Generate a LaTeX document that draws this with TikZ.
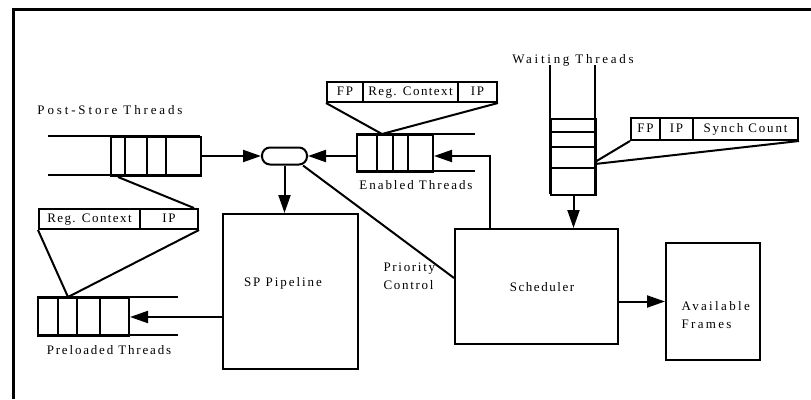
\documentclass[tikz,border=0pt]{standalone}
\usepackage{fontspec}
\setmainfont{Liberation Serif}
\usetikzlibrary{arrows.meta}
\begin{document}
\begin{tikzpicture}[x=1pt,y=-1pt,
  ln/.style={line width=2pt},
  bx/.style={draw,line width=2pt,inner sep=0pt,anchor=north west},
  fld/.style={bx,text height=9pt,text depth=3pt},
  arr/.style={line width=2pt,-{Triangle[length=18pt,width=12pt]}},
  lbl/.style={font=\fontsize{13}{18}\selectfont\addfontfeatures{LetterSpace=#1}},
  lbl/.default=14]
\useasboundingbox (0,0) rectangle (811,399);
% frame
\draw[line width=3pt] (811,9) -- (13,9) -- (13,399);

% Post-store queue
\draw[ln] (48,136) -- (200,136) (48,175) -- (200,175);
\node[bx,minimum width=90pt,minimum height=39pt] (ps) at (110,136) {};
\draw[ln] (125,136) -- (125,175) (147,136) -- (147,175) (166,136) -- (166,175);
\node[lbl=22] (pst) at (110,110) {Post-Store Threads};

% oval
\node[draw,line width=2pt,rounded corners=8pt,minimum width=45pt,minimum height=17pt,inner sep=0pt] (ov) at (284.5,156) {};

% Enabled queue
\draw[ln] (356,134) -- (475,134) (356,171) -- (475,171);
\node[bx,minimum width=76pt,minimum height=37pt] (en) at (356,134) {};
\draw[ln] (377,134) -- (377,171) (393,134) -- (393,171) (408,134) -- (408,171);
\node[lbl=15] (ent) at (416,185) {Enabled Threads};

% FP Reg.Context IP (enabled)
\node[fld,minimum width=36pt,minimum height=20pt,lbl] (f1) at (326,81) {FP};
\node[fld,minimum width=95pt,minimum height=20pt,lbl=11] (f2) at (362,81) {Reg. Context};
\node[fld,minimum width=39pt,minimum height=20pt,lbl] (f3) at (457,81) {IP};
\coordinate (ec) at (382,134);
\draw[ln] (f1.south west) -- (ec) -- (f3.south east);

% Waiting queue
\draw[ln] (550,65) -- (550,194) (595,65) -- (595,194);
\node[bx,minimum width=45pt,minimum height=76pt] (wq) at (550,118) {};
\draw[ln] (550,132) -- (595,132) (550,147) -- (595,147) (550,168) -- (595,168);
\node[lbl=21] (wqt) at (573,60) {Waiting Threads};

% FP IP Synch Count
\node[fld,minimum width=29pt,minimum height=22pt,lbl] (s1) at (630,117) {FP};
\node[fld,minimum width=33pt,minimum height=22pt,lbl] (s2) at (659,117) {IP};
\node[fld,minimum width=105pt,minimum height=22pt,lbl=14] (s3) at (692,117) {Synch Count};
\coordinate (wc1) at (595,162);
\coordinate (wc2) at (595,164);
\draw[ln] (s1.south west) -- (wc1);
\draw[ln] (s3.south east) -- (wc2);

% Scheduler
\node[bx,minimum width=163pt,minimum height=115pt] (sch) at (454,228) {};
\node[lbl=12] (scht) at (542,287) {Scheduler};

% Available Frames
\node[bx,minimum width=94pt,minimum height=117pt] (af) at (665,242) {};
\node[lbl=18,align=left,anchor=west] (aft) at (678,315) {Available\\Frames};

% SP Pipeline
\node[bx,minimum width=135pt,minimum height=155pt] (sp) at (222,213) {};
\node[lbl=15] (spt) at (283,283) {SP Pipeline};

% Priority Control
\node[lbl=13,align=left,anchor=west] (pct) at (380,276) {Priority\\Control};

% Reg.Context IP (left)
\node[fld,minimum width=101pt,minimum height=20pt,lbl=11] (r1) at (38,208) {Reg. Context};
\node[fld,minimum width=58pt,minimum height=20pt,lbl] (r2) at (139,208) {IP};

% Preloaded queue
\draw[ln] (37,297) -- (178,297) (37,335) -- (178,335);
\node[bx,minimum width=91pt,minimum height=38pt] (pq) at (37,297) {};
\draw[ln] (58,297) -- (58,335) (77,297) -- (77,335) (100,297) -- (100,335);
\node[lbl=14] (pqt) at (109,350) {Preloaded Threads};
\coordinate (pc) at (68,297);
\draw[ln] (r1.south west) -- (pc) -- (r2.south east);
\draw[ln] ([xshift=8pt]ps.south west) -- ([xshift=-5pt]r2.north east);

% connectors
\draw[arr] (ps.east |- ov.west) -- (ov.west);
\draw[arr] (en.west |- ov.east) -- (ov.east);
\draw[arr] (ov.south) -- (ov.south |- sp.north);
\draw[ln] ([xshift=-5pt]ov.south east) -- (sch.west |- 0,278);
\draw[arr] ([xshift=36pt]sch.north west) |- (en.east |- ov.east);
\draw[arr] (wq.south) -- (wq.south |- sch.north);
\draw[arr] (sch.east |- af.west) -- (af.west);
\draw[arr] (sp.west |- pq.east) -- (pq.east);
\end{tikzpicture}
\end{document}
